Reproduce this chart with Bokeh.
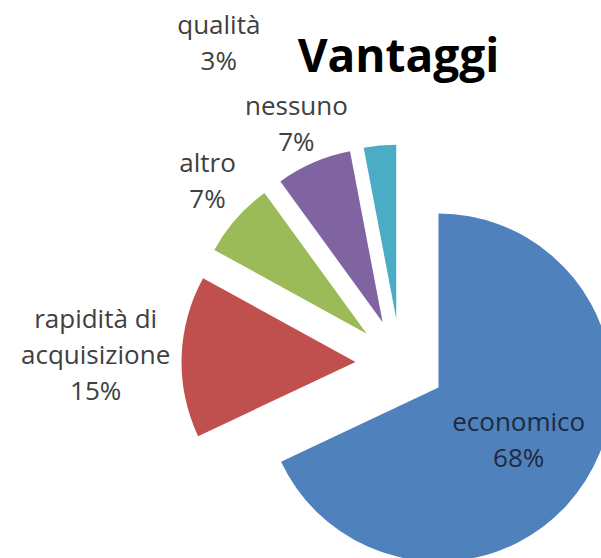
import math
from bokeh.plotting import figure
from bokeh.models import Range1d, ColumnDataSource
from bokeh.core.properties import value
from bokeh.embed import file_html
from bokeh.resources import INLINE

# ---- data ----
categories = ["economico", "rapidità di\nacquisizione", "altro", "nessuno", "qualità"]
percentages = [68, 15, 7, 7, 3]
colors = ["#4F81BD", "#C0504D", "#9BBB59", "#8064A2", "#4BACC6"]
title_text = "Vantaggi"

# ---- layout / style ----
W, H = 601, 558
CX, CY = 400, H - 363      # pie centre (data coords, y up)
R = 174                    # radius
EXPLODE = 45               # explode distance
label_r = [140, 305, 266, 262, 369]
label_angle_override = {2: 313.5, 4: 330.5}  # clockwise degrees from 12 o'clock
label_colors = ["#1E2A3E", "#404040", "#404040", "#404040", "#404040"]

total = float(sum(percentages))
xs, ys, starts, ends, lx, ly, texts = [], [], [], [], [], [], []
cum = 0.0
for i, v in enumerate(percentages):
    a = cum / total * 360.0
    b = (cum + v) / total * 360.0
    cum += v
    mid = (a + b) / 2.0
    m = math.radians(mid)
    xs.append(CX + EXPLODE * math.sin(m))
    ys.append(CY + EXPLODE * math.cos(m))
    starts.append(math.radians(90 - b))
    ends.append(math.radians(90 - a))
    la = math.radians(label_angle_override.get(i, mid))
    lx.append(CX + label_r[i] * math.sin(la))
    ly.append(CY + label_r[i] * math.cos(la))
    texts.append(f"{categories[i]}\n{v}%")

src = ColumnDataSource(dict(x=xs, y=ys, start=starts, end=ends, color=colors))
lsrc = ColumnDataSource(dict(x=lx, y=ly, text=texts, color=label_colors))

p = figure(width=W, height=H, x_range=Range1d(0, W), y_range=Range1d(0, H),
           x_axis_type=None, y_axis_type=None, toolbar_location=None,
           output_backend="svg", min_border=0)
p.grid.visible = False
p.outline_line_color = None
p.background_fill_color = "white"
p.border_fill_color = "white"

p.wedge(x="x", y="y", radius=R, start_angle="start", end_angle="end",
        fill_color="color", line_color=None, source=src)

p.text(x="x", y="y", text="text", source=lsrc, text_align="center",
       text_baseline="middle", text_font=value("Open Sans"),
       text_font_size="26px", text_color="color", text_line_height=1.0)

p.text(x=[398], y=[H - 53], text=[title_text], text_align="center",
       text_baseline="alphabetic", text_font=value("Open Sans"),
       text_font_style="bold", text_font_size="46px", text_color="#000000")

open("out.html", "w").write(file_html(p, INLINE))
